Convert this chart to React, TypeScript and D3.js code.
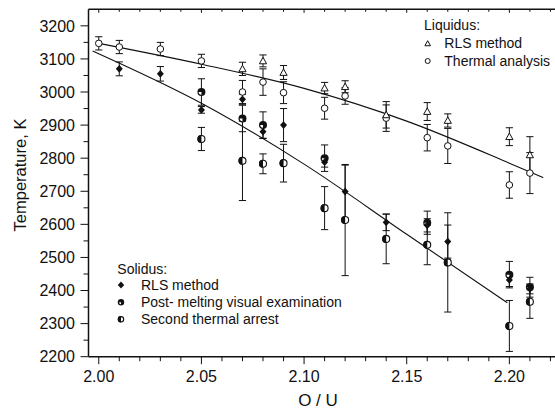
import React from 'react';
import * as d3 from 'd3';

const W = 555;
const H = 412;

// Liquidus – RLS method (open triangles)
const liqRlsX = [2.07, 2.08, 2.09, 2.11, 2.12, 2.14, 2.16, 2.17, 2.20, 2.21];
const liqRlsT = [3070, 3094, 3059, 3012, 3016, 2931, 2941, 2914, 2865, 2810];
const liqRlsE = [20, 18, 21, 17, 18, 40, 27, 20, 27, 55];
// Liquidus – Thermal analysis (open circles)
const liqThX = [2.00, 2.01, 2.03, 2.05, 2.07, 2.08, 2.09, 2.11, 2.12, 2.14, 2.16, 2.17, 2.20, 2.21];
const liqThT = [3147, 3136, 3130, 3094, 3000, 3030, 2998, 2951, 2988, 2921, 2862, 2837, 2719, 2755];
const liqThE = [20, 20, 20, 20, 35, 40, 33, 33, 25, 40, 40, 53, 40, 62];
// Solidus – RLS method (diamonds)
const solRlsX = [2.01, 2.03, 2.05, 2.07, 2.08, 2.09, 2.11, 2.12, 2.14, 2.16, 2.17, 2.20, 2.21];
const solRlsT = [3070, 3055, 2946, 2978, 2880, 2900, 2788, 2699, 2606, 2597, 2548, 2432, 2405];
const solRlsE = [21, 22, 10, 15, 20, 50, 15, 80, 25, 20, 50, 20, 15];
// Solidus – Post-melting visual examination
const solPostX = [2.05, 2.07, 2.08, 2.11, 2.16, 2.20, 2.21];
const solPostT = [3000, 2920, 2900, 2800, 2605, 2448, 2410];
const solPostE = [40, 40, 40, 40, 35, 40, 30];
// Solidus – Second thermal arrest
const solSecX = [2.05, 2.07, 2.08, 2.09, 2.11, 2.12, 2.14, 2.16, 2.17, 2.20, 2.21];
const solSecT = [2858, 2792, 2783, 2785, 2649, 2613, 2556, 2538, 2485, 2293, 2366];
const solSecE = [35, 120, 30, 57, 65, 168, 75, 60, 150, 77, 50];
// Fitted lines
const liqFitX = [2.00, 2.05, 2.10, 2.15, 2.20, 2.2165];
const liqFitT = [3147, 3084, 3011, 2912, 2785, 2741];
const solFitX = [1.997, 2.05, 2.10, 2.15, 2.199];
const solFitT = [3124, 2966, 2782, 2570, 2363];

const xMajor = [2.00, 2.05, 2.10, 2.15, 2.20];
const xMinor = d3.range(0, 23).map((i) => 2.0 + i * 0.01);
const yMajor = [2200, 2300, 2400, 2500, 2600, 2700, 2800, 2900, 3000, 3100, 3200];
const yMinor = d3.range(0, 21).map((i) => 2200 + i * 50);

const FONT = "'Liberation Sans', Arial, Helvetica, sans-serif";

const L = 88.5, T = 9.3, B = 356.7;
const x = d3.scaleLinear().domain([1.995, 2.2225]).range([L, L + 0.2275 * 2053]);
const y = d3.scaleLinear().domain([2200, 3250]).range([B, T]);

const zip = (xs: number[], ts: number[], es?: number[]) =>
  xs.map((v, i) => ({ x: v, t: ts[i], e: es ? es[i] : 0 }));

function ErrBars({ data }: { data: { x: number; t: number; e: number }[] }) {
  return (
    <g stroke="#111" strokeWidth={1} fill="none">
      {data.map((d, i) => {
        const cx = x(d.x);
        const y1 = y(d.t + d.e);
        const y2 = y(d.t - d.e);
        return (
          <g key={i}>
            <line x1={cx} x2={cx} y1={y1} y2={y2} />
            <line x1={cx - 3.6} x2={cx + 3.6} y1={y1} y2={y1} />
            <line x1={cx - 3.6} x2={cx + 3.6} y1={y2} y2={y2} />
          </g>
        );
      })}
    </g>
  );
}

function Triangle({ cx, cy, s = 3.6 }: any) {
  const h = s * 1.0;
  return (
    <path
      d={`M${cx},${cy - h} L${cx + s},${cy + h * 0.8} L${cx - s},${cy + h * 0.8} Z`}
      fill="#fff"
      stroke="#111"
      strokeWidth={1}
    />
  );
}
function OpenCircle({ cx, cy, r = 3.3 }: any) {
  return <circle cx={cx} cy={cy} r={r} fill="#fff" stroke="#111" strokeWidth={1} />;
}
function Diamond({ cx, cy, s = 3.5 }: any) {
  return <path d={`M${cx},${cy - s - 0.4} L${cx + s},${cy} L${cx},${cy + s + 0.4} L${cx - s},${cy} Z`} fill="#111" />;
}
function PostCircle({ cx, cy, r = 4 }: any) {
  const ri = r - 1.3;
  return (
    <g>
      <circle cx={cx} cy={cy} r={r} fill="#111" />
      <path d={`M${cx},${cy} L${cx - ri},${cy} A${ri},${ri} 0 0 0 ${cx},${cy + ri} Z`} fill="#fff" />
    </g>
  );
}
function SecCircle({ cx, cy, r = 4 }: any) {
  return (
    <g>
      <circle cx={cx} cy={cy} r={r - 0.5} fill="#fff" stroke="#111" strokeWidth={1.1} />
      <path d={`M${cx},${cy - r} A${r},${r} 0 0 0 ${cx},${cy + r} Z`} fill="#111" />
    </g>
  );
}

export default function App() {
  const line = d3
    .line<{ x: number; t: number }>()
    .x((d) => x(d.x))
    .y((d) => y(d.t))
    .curve(d3.curveMonotoneX);

  const liqRls = zip(liqRlsX, liqRlsT, liqRlsE);
  const liqTh = zip(liqThX, liqThT, liqThE);
  const solRls = zip(solRlsX, solRlsT, solRlsE);
  const solPost = zip(solPostX, solPostT, solPostE);
  const solSec = zip(solSecX, solSecT, solSecE);

  const right = W + 2;

  return (
    <div style={{ position: 'fixed', left: 0, top: 0, width: W, height: H, background: '#fff' }}>
      <svg width={W} height={H} style={{ display: 'block', fontFamily: FONT }}>
        <rect width={W} height={H} fill="#fff" />
        {/* fit lines */}
        <path d={line(zip(liqFitX, liqFitT)) || ''} fill="none" stroke="#111" strokeWidth={1.1} />
        <path d={line(zip(solFitX, solFitT)) || ''} fill="none" stroke="#111" strokeWidth={1.1} />

        {/* error bars */}
        <ErrBars data={liqRls} />
        <ErrBars data={liqTh} />
        <ErrBars data={solRls} />
        <ErrBars data={solPost} />
        <ErrBars data={solSec} />

        {/* markers */}
        {solSec.map((d, i) => (
          <SecCircle key={'s' + i} cx={x(d.x)} cy={y(d.t)} />
        ))}
        {solPost.map((d, i) => (
          <PostCircle key={'p' + i} cx={x(d.x)} cy={y(d.t)} />
        ))}
        {solRls.map((d, i) => (
          <Diamond key={'d' + i} cx={x(d.x)} cy={y(d.t)} />
        ))}
        {liqTh.map((d, i) => (
          <OpenCircle key={'c' + i} cx={x(d.x)} cy={y(d.t)} />
        ))}
        {liqRls.map((d, i) => (
          <Triangle key={'t' + i} cx={x(d.x)} cy={y(d.t)} />
        ))}

        {/* frame */}
        <g stroke="#111" strokeWidth={1.5} fill="none">
          <line x1={L} x2={right} y1={T} y2={T} />
          <line x1={L} x2={right} y1={B} y2={B} />
          <line x1={L} x2={L} y1={T} y2={B} />
        </g>

        {/* x ticks */}
        <g stroke="#111" strokeWidth={1}>
          {xMinor.map((v, i) => {
            const isMajor = xMajor.some((m) => Math.abs(m - v) < 1e-6);
            return (
              <g key={i}>
                <line x1={x(v)} x2={x(v)} y1={B} y2={B + (isMajor ? 7.5 : 4.5)} />
                <line x1={x(v)} x2={x(v)} y1={T} y2={T + (isMajor ? 3.5 : 2.5)} />
              </g>
            );
          })}
        </g>
        {xMajor.map((v) => (
          <text key={v} x={x(v)} y={382} textAnchor="middle" fontSize={16} fill="#111">
            {v.toFixed(2)}
          </text>
        ))}

        {/* y ticks */}
        <g stroke="#111" strokeWidth={1}>
          {yMinor.map((v, i) => {
            const isMajor = v % 100 === 0;
            return <line key={i} x1={L - (isMajor ? 8 : 5)} x2={L} y1={y(v)} y2={y(v)} />;
          })}
        </g>
        {yMajor.map((v) => (
          <text key={v} x={75} y={y(v)} dy="0.36em" textAnchor="end" fontSize={16} fill="#111">
            {v}
          </text>
        ))}

        {/* axis titles */}
        <text x={318} y={406} textAnchor="middle" fontSize={17} fill="#111">
          O / U
        </text>
        <text
          transform={`translate(26,175) rotate(-90)`}
          textAnchor="middle"
          fontSize={16.5}
          fill="#111"
        >
          Temperature, K
        </text>

        {/* liquidus legend */}
        <g fontSize={14} fill="#111">
          <text x={424} y={29.5}>Liquidus:</text>
          <Triangle cx={427.7} cy={43.5} s={2.8} />
          <text x={444.3} y={48.3}>RLS method</text>
          <OpenCircle cx={427.7} cy={61} r={2.5} />
          <text x={444.3} y={65.8}>Thermal analysis</text>
        </g>

        {/* solidus legend */}
        <g fontSize={14} fill="#111">
          <text x={117.3} y={274}>Solidus:</text>
          <Diamond cx={121} cy={285} s={3.2} />
          <text x={141} y={290}>RLS method</text>
          <PostCircle cx={121} cy={302.3} r={3.2} />
          <text x={141} y={307}>Post- melting visual examination</text>
          <SecCircle cx={121} cy={319.3} r={3.2} />
          <text x={141} y={324}>Second thermal arrest</text>
        </g>
      </svg>
    </div>
  );
}
